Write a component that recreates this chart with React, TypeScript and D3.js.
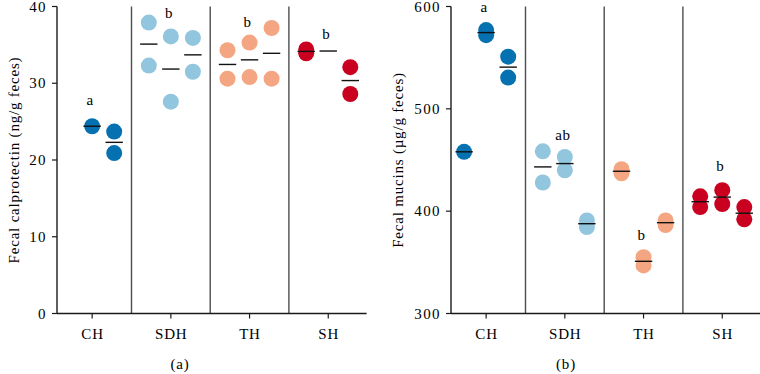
import React, { useEffect, useRef } from "react";
import * as d3 from "d3";

const groups = ["CH", "SDH", "TH", "SH"];
const groupColors = ["#0571b0", "#92c5de", "#f4a582", "#ca0020"];

// Fecal calprotectin (ng/g feces), three sub-columns per group
const calproCH = [[], [24.4], [23.7, 20.9]];
const calproSDH = [[37.9, 32.3], [36.1, 27.6], [35.9, 31.5]];
const calproTH = [[34.3, 30.6], [35.3, 30.8], [37.2, 30.6]];
const calproSH = [[34.4, 33.9], [], [32.1, 28.6]];
// mean line drawn without visible points
const calproMeanOnly: [number, number, number][] = [[3, 1, 34.2]];
const calproLetters = ["a", "b", "b", "b"];
const calproLetterY = [27.2, 38.5, 37.3, 35.8];
const calproTicks = [0, 10, 20, 30, 40];

// Fecal mucins (µg/g feces)
const mucCH = [[458], [577, 572], [551, 530.5]];
const mucSDH = [[458.5, 428], [453, 440], [391, 384.5]];
const mucTH = [[441, 437], [355, 347], [391, 386.5]];
const mucSH = [[414.5, 404], [420.5, 407], [404, 392]];
const mucMeanOnly: [number, number, number][] = [];
const mucLetters = ["a", "ab", "b", "b"];
const mucLetterY = [594.5, 469.8, 372.2, 439];
const mucTicks = [300, 400, 500, 600];

const FONT = "'Liberation Serif', 'Times New Roman', serif";

interface PanelCfg {
  axisX: number;
  domain: [number, number];
  ticks: number[];
  cols: number[][][];
  meanOnly: [number, number, number][];
  letters: string[];
  letterY: number[];
  title: string;
  titleX: number;
  caption: string;
  captionX: number;
}

const App: React.FC = () => {
  const svgRef = useRef<SVGSVGElement | null>(null);

  useEffect(() => {
    const width = 760;
    const height = 374;
    const top = 6.5;
    const bottom = 313.5;
    const bandW = 78.7;

    const svg = d3
      .select(svgRef.current)
      .attr("width", width)
      .attr("height", height);
    svg.selectAll("*").remove();

    const label = (sel: d3.Selection<SVGTextElement, unknown, null, undefined>, spacing = 0.8) =>
      sel
        .style("font-family", FONT)
        .style("font-size", "15px")
        .style("letter-spacing", `${spacing}px`)
        .style("fill", "#000");

    const panels: PanelCfg[] = [
      {
        axisX: 57,
        domain: [0, 40],
        ticks: calproTicks,
        cols: [calproCH, calproSDH, calproTH, calproSH],
        meanOnly: calproMeanOnly,
        letters: calproLetters,
        letterY: calproLetterY,
        title: "Fecal calprotectin (ng/g feces)",
        titleX: 14,
        caption: "(a)",
        captionX: 180,
      },
      {
        axisX: 451,
        domain: [300, 600],
        ticks: mucTicks,
        cols: [mucCH, mucSDH, mucTH, mucSH],
        meanOnly: mucMeanOnly,
        letters: mucLetters,
        letterY: mucLetterY,
        title: "Fecal mucins (\u00b5g/g feces)",
        titleX: 398,
        caption: "(b)",
        captionX: 566,
      },
    ];

    panels.forEach((p) => {
      const g = svg.append("g");
      const x0 = p.axisX - 4.2;
      const xScale = d3
        .scaleBand()
        .domain(groups)
        .range([x0, x0 + bandW * 4])
        .paddingInner(0)
        .paddingOuter(0);
      const bw = xScale.bandwidth();
      const sub = d3
        .scalePoint<number>()
        .domain([0, 1, 2])
        .range([-bw * 0.28, bw * 0.28]);
      const yScale = d3
        .scaleLinear()
        .domain(p.domain)
        .range([bottom, top]);
      const xEnd = x0 + bandW * 4 - 1;

      // group dividers
      groups.slice(1).forEach((grp) => {
        const xx = xScale(grp)!;
        g.append("line")
          .attr("x1", xx)
          .attr("x2", xx)
          .attr("y1", top)
          .attr("y2", bottom)
          .attr("stroke", "#4d4d4d")
          .attr("stroke-width", 1.4);
      });

      // Y axis
      g.append("line")
        .attr("x1", p.axisX)
        .attr("x2", p.axisX)
        .attr("y1", top)
        .attr("y2", bottom)
        .attr("stroke", "#1a1a1a")
        .attr("stroke-width", 1.4);
      p.ticks.forEach((t) => {
        g.append("line")
          .attr("x1", p.axisX - 5)
          .attr("x2", p.axisX)
          .attr("y1", yScale(t))
          .attr("y2", yScale(t))
          .attr("stroke", "#1a1a1a")
          .attr("stroke-width", 1.2);
        label(
          g
            .append("text")
            .attr("x", p.axisX - 10)
            .attr("y", yScale(t) + 5)
            .attr("text-anchor", "end"),
          1.4
        ).text(t);
      });

      // X axis
      g.append("line")
        .attr("x1", p.axisX)
        .attr("x2", xEnd)
        .attr("y1", bottom)
        .attr("y2", bottom)
        .attr("stroke", "#1a1a1a")
        .attr("stroke-width", 1.4);
      groups.forEach((grp) => {
        const cx = xScale(grp)! + bw / 2;
        g.append("line")
          .attr("x1", cx)
          .attr("x2", cx)
          .attr("y1", bottom)
          .attr("y2", bottom + 5)
          .attr("stroke", "#1a1a1a")
          .attr("stroke-width", 1.2);
        label(
          g
            .append("text")
            .attr("x", cx + 0.4)
            .attr("y", bottom + 25.3)
            .attr("text-anchor", "middle")
        ).text(grp);
      });

      // points and means
      p.cols.forEach((cols, gi) => {
        const cx = xScale(groups[gi])! + bw / 2;
        cols.forEach((vals, ci) => {
          const px = cx + sub(ci)!;
          vals.forEach((v) => {
            g.append("circle")
              .attr("cx", px)
              .attr("cy", yScale(v))
              .attr("r", 8)
              .attr("fill", groupColors[gi]);
          });
        });
        cols.forEach((vals, ci) => {
          if (!vals.length) return;
          const px = cx + sub(ci)!;
          const m = d3.mean(vals)!;
          g.append("line")
            .attr("x1", px - 8.7)
            .attr("x2", px + 8.7)
            .attr("y1", yScale(m))
            .attr("y2", yScale(m))
            .attr("stroke", "#111")
            .attr("stroke-width", 1.4);
        });
        label(
          g
            .append("text")
            .attr("x", cx - 2)
            .attr("y", yScale(p.letterY[gi]))
            .attr("text-anchor", "middle"),
          0.4
        ).text(p.letters[gi]);
      });

      p.meanOnly.forEach(([gi, ci, m]) => {
        const px = xScale(groups[gi])! + bw / 2 + sub(ci)!;
        g.append("line")
          .attr("x1", px - 8.7)
          .attr("x2", px + 8.7)
          .attr("y1", yScale(m))
          .attr("y2", yScale(m))
          .attr("stroke", "#111")
          .attr("stroke-width", 1.4);
      });

      // axis title
      label(
        g
          .append("text")
          .attr("transform", `translate(${p.titleX},${(top + bottom) / 2}) rotate(-90)`)
          .attr("text-anchor", "middle")
          .attr("dy", "0.35em")
      ).text(p.title);

      // caption
      label(
        g
          .append("text")
          .attr("x", p.captionX)
          .attr("y", 369)
          .attr("text-anchor", "middle")
      ).text(p.caption);
    });
  }, []);

  return (
    <svg
      ref={svgRef}
      style={{ position: "absolute", left: 0, top: 0, display: "block", background: "#fff" }}
    ></svg>
  );
};

export default App;
